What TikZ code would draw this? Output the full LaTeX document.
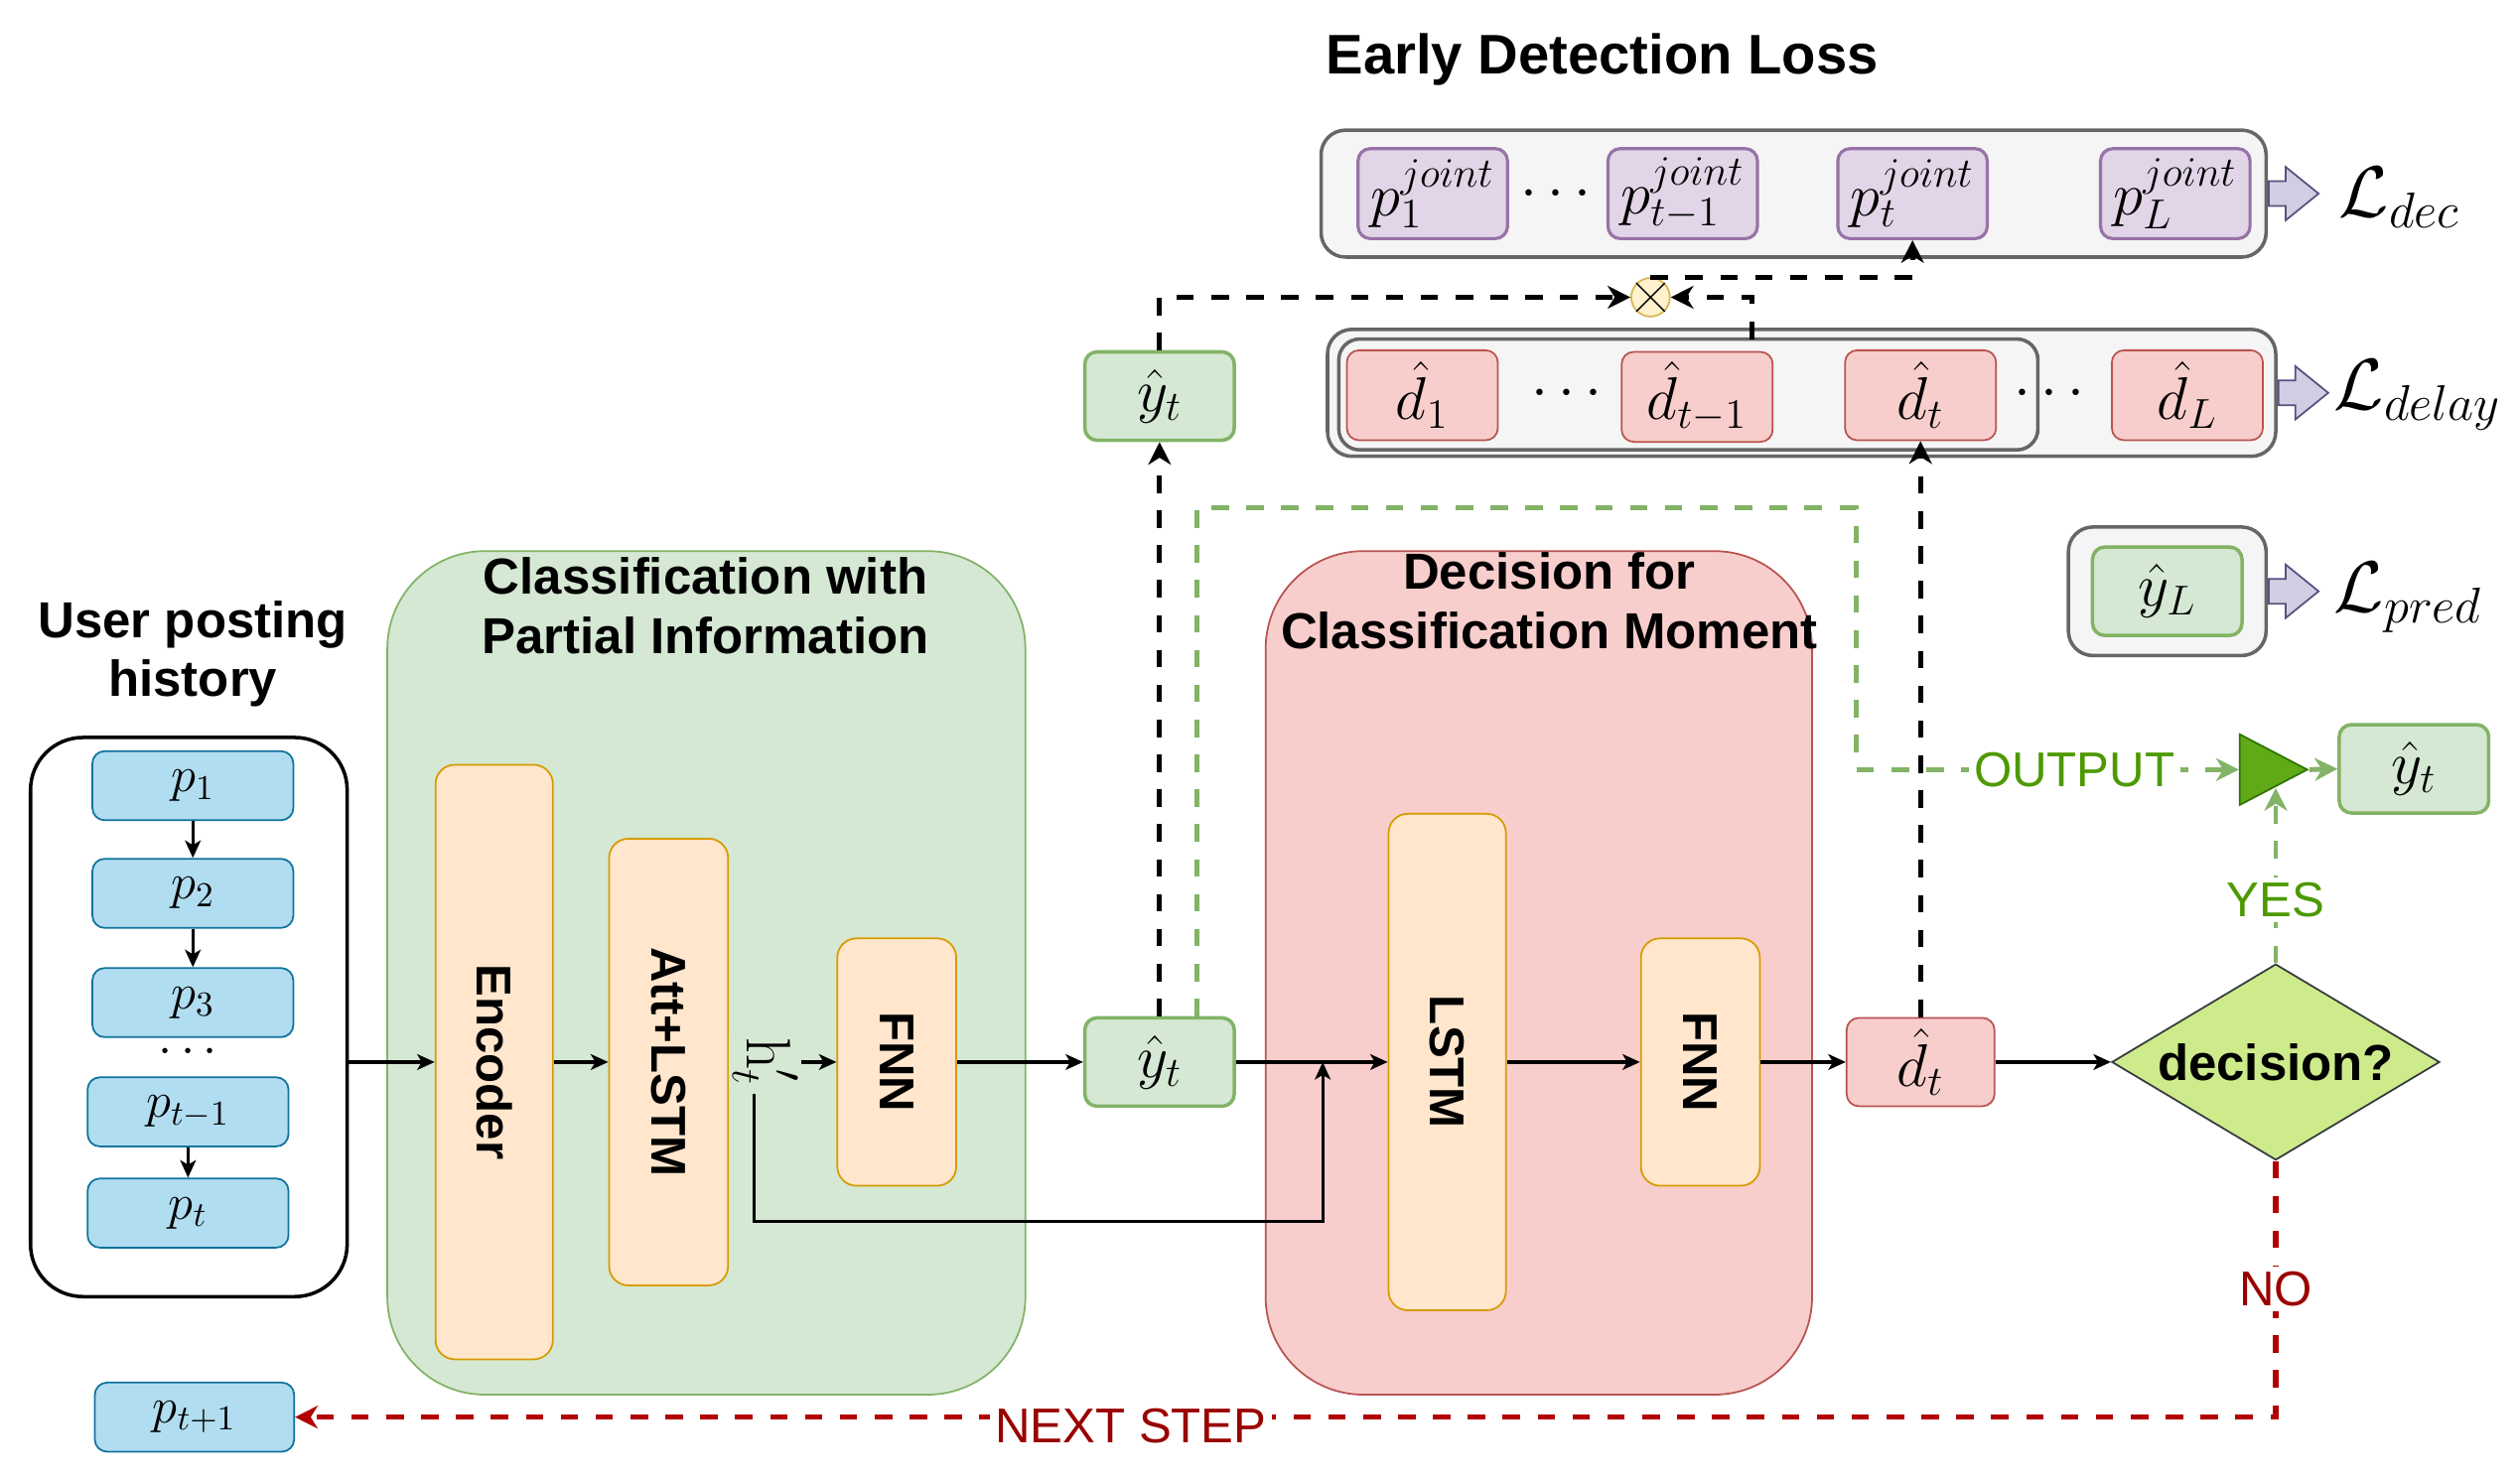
\documentclass[tikz,border=0pt]{standalone}
\usepackage{fontspec}
\setmainfont{Liberation Sans}
\usetikzlibrary{arrows.meta,shapes.geometric,shapes.arrows,calc}
\definecolor{blueF}{HTML}{B1DDF0}\definecolor{blueD}{HTML}{10739E}
\definecolor{greenF}{HTML}{D5E8D4}\definecolor{greenD}{HTML}{82B366}
\definecolor{redF}{HTML}{F8CECC}\definecolor{redD}{HTML}{B85450}
\definecolor{orangeF}{HTML}{FFE6CC}\definecolor{orangeD}{HTML}{D79B00}
\definecolor{purpleF}{HTML}{E1D5E7}\definecolor{purpleD}{HTML}{9673A6}
\definecolor{grayF}{HTML}{F5F5F5}\definecolor{grayD}{HTML}{666666}
\definecolor{lavF}{HTML}{D0CEE2}\definecolor{lavD}{HTML}{56517E}
\definecolor{yelF}{HTML}{FFF2CC}\definecolor{yelD}{HTML}{D6B656}
\definecolor{decF}{HTML}{CDEB8B}\definecolor{decD}{HTML}{36393D}
\definecolor{triF}{HTML}{60A917}\definecolor{triD}{HTML}{2D7600}
\definecolor{txtgreen}{HTML}{4D9900}
\definecolor{txtred}{HTML}{990000}
\definecolor{lnred}{HTML}{B20000}
\begin{document}
\begin{tikzpicture}[x=0.016186cm,y=-0.016186cm,
  wh/.style 2 args={minimum width=#1*0.016186cm,minimum height=#2*0.016186cm},
  box/.style={rounded corners=3.5pt,inner sep=0pt,align=center},
  pbox/.style={box,fill=blueF,draw=blueD,line width=0.5pt,wh={125}{43},font=\fontsize{14}{16}\selectfont},
  jbox/.style={box,fill=purpleF,draw=purpleD,line width=0.9pt,wh={93}{56},font=\fontsize{17.5}{20}\selectfont},
  dbox/.style={box,fill=redF,draw=redD,line width=0.5pt,wh={94}{56},font=\fontsize{17.5}{20}\selectfont},
  ybox/.style={box,fill=greenF,draw=greenD,line width=1pt,wh={93}{55},font=\fontsize{17.5}{20}\selectfont},
  gbox/.style={rounded corners=7pt,fill=grayF,draw=grayD,line width=1pt,inner sep=0pt},
  obox/.style={rounded corners=5.5pt,fill=orangeF,draw=orangeD,line width=0.5pt,inner sep=0pt,font=\bfseries\fontsize{14}{17}\selectfont},
  region/.style={rounded corners=28pt,line width=0.5pt,inner sep=0pt},
  ttl/.style={font=\bfseries\fontsize{14.5}{17}\selectfont,align=center,inner sep=0pt},
  dots/.style={font=\fontsize{17}{20}\selectfont,inner sep=0pt},
  bigL/.style={font=\fontsize{21.5}{24}\selectfont,inner sep=0pt,anchor=base west},
  flex/.style={single arrow,draw=lavD,fill=lavF,line width=0.5pt,inner xsep=0pt,inner ysep=3.3pt,
    single arrow head extend=4.1pt,single arrow tip angle=78,minimum height=14.3pt,minimum width=14.8pt,anchor=tail},
  arr/.style={line width=0.9pt,-{Stealth[length=5pt,width=4.5pt,inset=1.3pt]}},
  kdash/.style={line width=1.4pt,dash pattern=on 5pt off 5pt,-{Stealth[length=6.5pt,width=6.5pt,inset=2pt]}},
  gdash/.style={kdash,draw=greenD},
  rdash/.style={line width=1.6pt,draw=lnred,dash pattern=on 5pt off 5pt,-{Stealth[length=6.5pt,width=6.5pt,inset=2pt]}},
  lbl/.style={fill=white,inner sep=1.5pt,font=\fontsize{14}{17}\selectfont}]

\path[use as bounding box,fill=white] (0,0) rectangle (1568,921);

% ---------- titles
\node[ttl,font=\bfseries\fontsize{16}{19}\selectfont] (tEDL) at (997,37) {Early Detection Loss};
\node[ttl] (tUPH) at (120,407) {User posting\\history};

% ---------- regions
\node[region,fill=greenF,draw=greenD,wh={397}{525}] (greg) at (439.5,605.5) {};
\node[region,fill=redF,draw=redD,wh={340}{525}] (rreg) at (957.5,605.5) {};
\node[ttl] (tCPI) at (439,377) {Classification with\\Partial Information};
\node[ttl] (tDCM) at (964,374) {Decision for\\Classification Moment};

% ---------- history
\node[draw=black,line width=1pt,rounded corners=15pt,fill=white,wh={197}{348}] (hist) at (117.5,633) {};
\node[pbox] (p1) at (120,489) {$p_1$};
\node[pbox] (p2) at (120,556) {$p_2$};
\node[pbox] (p3) at (120,624) {$p_3$};
\node[dots,font=\fontsize{15}{18}\selectfont] (pdots) at (117,655) {$\cdots$};
\node[pbox] (ptm1) at (117,692) {$p_{t-1}$};
\node[pbox] (pt) at (117,755) {$p_t$};
\node[pbox,wh={124}{43}] (ptp1) at (121,882) {$p_{t+1}$};
\draw[arr] (p1) -- (p2);
\draw[arr] (p2) -- (p3);
\draw[arr] (ptm1) -- (pt);

% ---------- orange blocks
\node[obox,wh={73}{370}] (enc) at (307.5,661) {\rotatebox{-90}{Encoder}};
\node[obox,wh={74}{278}] (att) at (416,661) {\rotatebox{-90}{Att+LSTM}};
\node[obox,wh={74}{154}] (fnn1) at (558,661) {\rotatebox{-90}{FNN}};
\node[obox,wh={73}{309}] (lstm) at (900.5,661) {\rotatebox{-90}{LSTM}};
\node[obox,wh={74}{154}] (fnn2) at (1058,661) {\rotatebox{-90}{FNN}};

% ---------- small result boxes
\node[ybox] (ytl) at (721.5,661) {$\hat{y}_t$};
\node[dbox,wh={92}{55}] (dtl) at (1195,661) {$\hat{d}_t$};
\node[diamond,aspect=1.67,fill=decF,draw=decD,line width=0.5pt,inner sep=0pt,wh={204}{122},
  font=\bfseries\fontsize{14.5}{17}\selectfont] (dec) at (1416,661) {decision?};
\node[ybox] (ytu) at (721.5,246.5) {$\hat{y}_t$};
\node[ybox] (ytr) at (1502,478.5) {$\hat{y}_t$};
\node[isosceles triangle,isosceles triangle stretches,fill=triF,draw=triD,line width=0.5pt,
  inner sep=0pt,wh={44}{42},anchor=apex] (tri) at (1437,479) {};

% ---------- early detection loss
\node[gbox,wh={588}{79}] (decbox) at (1116,120.5) {};
\node[jbox] (p1j) at (891.5,120.5) {$p_1^{joint}$};
\node[jbox] (ptm1j) at (1047,120.5) {$p_{t-1}^{joint}$};
\node[jbox] (ptj) at (1190,120.5) {$p_t^{joint}$};
\node[jbox] (pLj) at (1353.5,120.5) {$p_L^{joint}$};
\node[dots] (jdots) at (968,121) {$\cdots$};
\node[flex] (fa1) at (decbox.east) {};
\node[bigL] (Ldec) at (1455,135) {$\mathcal{L}_{dec}$};

\node[gbox,wh={590}{79}] (delbox) at (1121,244.5) {};
\node[gbox,rounded corners=6pt,wh={435}{69}] (dinner) at (1050.5,245.5) {};
\node[dbox] (d1) at (885,246) {$\hat{d}_1$};
\node[dbox] (dtm1) at (1056,247) {$\hat{d}_{t-1}$};
\node[dbox] (dtu) at (1195,246) {$\hat{d}_t$};
\node[dbox] (dL) at (1361,246) {$\hat{d}_L$};
\node[dots] (ddots1) at (975,245) {$\cdots$};
\node[dots] (ddots2) at (1275,245) {$\cdots$};
\node[flex] (fa2) at (delbox.east) {};
\node[bigL] (Ldelay) at (1452,255) {$\mathcal{L}_{delay}$};

\node[gbox,wh={123}{80}] (yLbox) at (1348.5,368) {};
\node[ybox] (yL) at (1348.5,368) {$\hat{y}_L$};
\node[flex] (fa3) at (yLbox.east) {};
\node[bigL] (Lpred) at (1452,381) {$\mathcal{L}_{pred}$};

\node[circle,fill=yelF,draw=yelD,line width=0.5pt,inner sep=0pt,minimum size=24*0.016186cm] (mul) at (1027,185) {};
\draw[line width=0.4pt] (mul.north west) -- (mul.south east) (mul.north east) -- (mul.south west);

% ---------- main solid flow
\draw[arr] (hist.east |- enc.west) -- (enc.west);
\draw[arr] (enc.east) -- (att.west);
\draw[arr] (att.east) -- node[pos=0.34,rotate=-90,fill=greenF,inner sep=1pt,font=\fontsize{18}{21}\selectfont]
  (hlab) {$\hbox{\fontfamily{lmr}\selectfont h}'_t$} (fnn1.west);
\coordinate (hs) at (469,681);
\coordinate (hj) at (823,661);
\draw[arr] (hs) -- ++(0,79) -| (hj);
\draw[arr] (fnn1.east) -- (ytl.west);
\draw[arr] (ytl.east) -- (lstm.west);
\draw[arr] (lstm.east) -- (fnn2.west);
\draw[arr] (fnn2.east) -- (dtl.west);
\draw[arr] (dtl.east) -- (dec.west);

% ---------- black dashed
\draw[kdash] (ytl.north) -- (ytu.south);
\draw[kdash] (ytu.north) |- (mul.west);
\coordinate (dsrc) at (1090,211);
\draw[kdash] (dsrc) |- (mul.east);
\draw[kdash] (mul.north) -| (ptj.south);
\draw[kdash] (dtl.north) -- (dtu.south);

% ---------- green output path
\draw[gdash] ($(ytl.north)+(23,0)$) |- (1155,316) |- node[pos=0.785,lbl,text=txtgreen]{OUTPUT} (tri.west);
\coordinate (tribot) at ($(tri.right corner)!0.5!(tri.apex)$);
\draw[gdash] (dec.north) -- node[pos=0.36,lbl,text=txtgreen]{YES} (dec.north |- tribot);
\draw[line width=1.4pt,draw=greenD,-{Stealth[length=6.5pt,width=6.5pt,inset=2pt]}] (tri.apex) -- (ytr.west);

% ---------- red next step path
\draw[rdash] (dec.south) |- node[pos=0.25,lbl,text=txtred]{NO}
  node[pos=0.789,lbl,text=txtred,yshift=-2.5pt]{NEXT STEP} (ptp1.east);
\end{tikzpicture}
\end{document}
